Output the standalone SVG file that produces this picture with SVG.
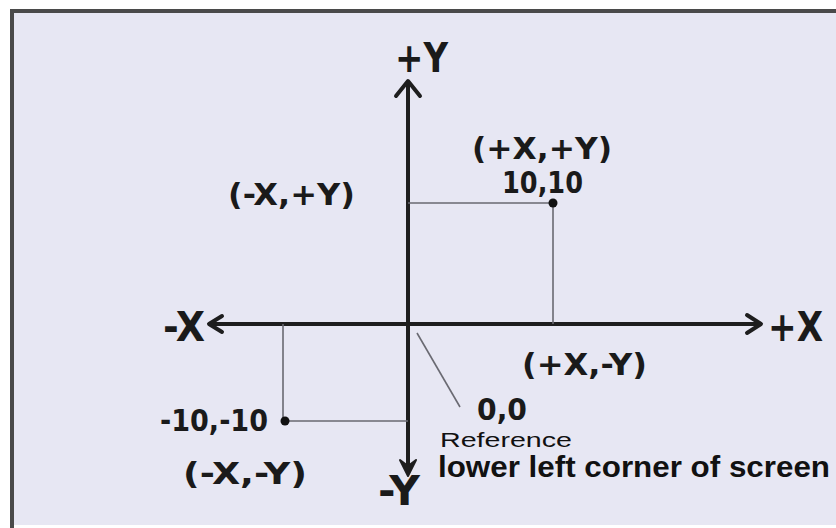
<svg xmlns="http://www.w3.org/2000/svg" width="836" height="528" viewBox="0 0 836 528">
  <style>
    .axis { stroke: #1e1e1e; stroke-width: 4; fill: none; }
    .head { stroke: #1e1e1e; stroke-width: 4; fill: none; stroke-linecap: round; stroke-linejoin: round; }
    .guide { stroke: #6a6a72; stroke-width: 1.6; fill: none; }
    .lbl { font-family: "DejaVu Sans", Verdana, sans-serif; fill: #1a1a1a; font-weight: bold; }
    .big { font-size: 40px; }
    .mid { font-size: 30px; }
    .note { font-family: "Liberation Sans", Arial, sans-serif; fill: #111; }
  </style>
  <rect x="0" y="0" width="836" height="528" fill="#ffffff"/>
  <rect x="12" y="11" width="824" height="514" fill="#e7e7f3"/>
  <line x1="12" y1="11" x2="836" y2="11" stroke="#4a4a4a" stroke-width="4"/>
  <line x1="12" y1="9" x2="12" y2="528" stroke="#4a4a4a" stroke-width="4"/>

  <g id="connectors">
    <!-- X axis -->
    <line class="axis" x1="210" y1="324" x2="760" y2="324"/>
    <polyline class="head" points="222,316 209,324 222,332"/>
    <polyline class="head" points="747,315 761,324 747,333"/>
    <!-- Y axis -->
    <line class="axis" x1="408" y1="82" x2="408" y2="472"/>
    <polyline class="head" points="396,96 408,81 420,96"/>
    <polygon points="400,460 408,476 416,460 408,466" fill="#1e1e1e" stroke="#1e1e1e" stroke-width="2" stroke-linejoin="round"/>
    <!-- guides for 10,10 -->
    <polyline class="guide" points="408,203 553,203 553,324"/>
    <!-- guides for -10,-10 -->
    <polyline class="guide" points="283,324 283,421 408,421"/>
    <!-- pointer to 0,0 -->
    <line class="guide" x1="417" y1="333" x2="460" y2="407"/>
  </g>

  <g id="axis-labels">
    <text class="lbl big" x="395" y="72" textLength="53" lengthAdjust="spacingAndGlyphs">+Y</text>
    <text class="lbl big" x="378" y="505" textLength="42" lengthAdjust="spacingAndGlyphs">-Y</text>
    <text class="lbl big" x="163" y="341" textLength="42" lengthAdjust="spacingAndGlyphs">-X</text>
    <text class="lbl big" x="768" y="341" textLength="55" lengthAdjust="spacingAndGlyphs">+X</text>
  </g>

  <g id="q1">
    <text class="lbl mid" x="472" y="159" textLength="140" lengthAdjust="spacingAndGlyphs">(+X,+Y)</text>
    <text class="lbl mid" x="502" y="193" textLength="81" lengthAdjust="spacingAndGlyphs">10,10</text>
    <circle cx="553" cy="203" r="4.5" fill="#111"/>
  </g>
  <g id="q2">
    <text class="lbl mid" x="228" y="205" textLength="127" lengthAdjust="spacingAndGlyphs">(-X,+Y)</text>
  </g>
  <g id="q4">
    <text class="lbl mid" x="522" y="375" textLength="125" lengthAdjust="spacingAndGlyphs">(+X,-Y)</text>
  </g>
  <g id="q3">
    <text class="lbl mid" x="160" y="431" textLength="108" lengthAdjust="spacingAndGlyphs">-10,-10</text>
    <circle cx="285" cy="421" r="4.5" fill="#111"/>
    <text class="lbl mid" x="183" y="484" textLength="124" lengthAdjust="spacingAndGlyphs">(-X,-Y)</text>
  </g>
  <g id="origin">
    <text class="lbl mid" x="477" y="420" textLength="50" lengthAdjust="spacingAndGlyphs">0,0</text>
    <text class="note" x="440" y="447" font-size="21" textLength="132" lengthAdjust="spacingAndGlyphs">Reference</text>
    <text class="note" x="438" y="477" font-size="30" font-weight="bold" textLength="392" lengthAdjust="spacingAndGlyphs">lower left corner of screen</text>
  </g>
</svg>
